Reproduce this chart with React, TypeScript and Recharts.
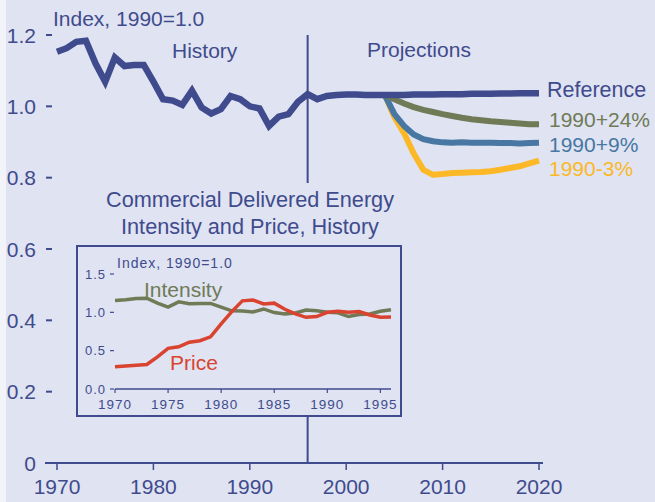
import React from 'react';
import { LineChart, Line, XAxis, YAxis, ReferenceLine } from 'recharts';

const NAVY = '#3f4b8d';
const GREEN = '#707a56';
const BLUE = '#4777a2';
const GOLD = '#fcb826';
const RED = '#d9432f';
const BG = '#dfe3f2';
const FONT = '"Liberation Sans", Arial, sans-serif';

// history, 1970-1996 (index, 1990 = 1.0)
const historyYears = [
  1970, 1971, 1972, 1973, 1974, 1975, 1976, 1977, 1978, 1979, 1980, 1981, 1982, 1983,
  1984, 1985, 1986, 1987, 1988, 1989, 1990, 1991, 1992, 1993, 1994, 1995, 1996,
];
const historyIndex = [
  1.153, 1.163, 1.181, 1.184, 1.12, 1.069, 1.137, 1.113, 1.116, 1.116, 1.069, 1.02, 1.016, 1.004,
  1.044, 0.997, 0.98, 0.992, 1.029, 1.02, 1.0, 0.994, 0.945, 0.971, 0.978, 1.013, 1.034,
];

// reference projection, 1997-2020
const projYears = [
  1997, 1998, 1999, 2000, 2001, 2002, 2003, 2004, 2005, 2006, 2007, 2008,
  2009, 2010, 2011, 2012, 2013, 2014, 2015, 2016, 2017, 2018, 2019, 2020,
];
const referenceIndex = [
  1.02, 1.029, 1.032, 1.033, 1.033, 1.032, 1.032, 1.032, 1.032, 1.032, 1.033, 1.033,
  1.033, 1.034, 1.034, 1.034, 1.035, 1.035, 1.035, 1.036, 1.036, 1.037, 1.037, 1.037,
];

// alternative cases, 2004-2020
const caseYears = [
  2004, 2005, 2006, 2007, 2008, 2009, 2010, 2011, 2012, 2013, 2014, 2015, 2016, 2017, 2018, 2019, 2020,
];
const case24 = [
  1.032, 1.02, 1.008, 0.998, 0.99, 0.984, 0.978, 0.973, 0.968, 0.964, 0.961, 0.958, 0.956, 0.954, 0.952, 0.95, 0.95,
];
const case9 = [
  1.032, 0.978, 0.945, 0.921, 0.908, 0.902, 0.899, 0.898, 0.899, 0.898, 0.898, 0.898, 0.897, 0.897, 0.896, 0.897, 0.898,
];
const caseMinus3 = [
  1.032, 0.97, 0.925, 0.868, 0.822, 0.808, 0.81, 0.813, 0.814, 0.815, 0.816, 0.818, 0.822, 0.827, 0.832, 0.84, 0.848,
];

// inset: commercial delivered energy price, 1970-1996
const priceIndex = [
  0.29, 0.3, 0.31, 0.32, 0.42, 0.53, 0.55, 0.61, 0.63, 0.68, 0.85, 1.01, 1.15, 1.16,
  1.11, 1.12, 1.04, 0.98, 0.935, 0.945, 1.0, 1.015, 1.0, 1.01, 0.965, 0.935, 0.94,
];

const xTicks = [1970, 1980, 1990, 2000, 2010, 2020];
const yTicks = [0, 0.2, 0.4, 0.6, 0.8, 1.0, 1.2];
const insetXTicks = [1970, 1975, 1980, 1985, 1990, 1995];
const insetYTicks = [0, 0.5, 1.0, 1.5];

const mainData = [...historyYears, ...projYears].map(year => {
  const h = historyYears.indexOf(year);
  const p = projYears.indexOf(year);
  const c = caseYears.indexOf(year);
  return {
    year,
    reference: h >= 0 ? historyIndex[h] : referenceIndex[p],
    case24: c >= 0 ? case24[c] : null,
    case9: c >= 0 ? case9[c] : null,
    caseMinus3: c >= 0 ? caseMinus3[c] : null,
  };
});

const insetData = historyYears.map((year, i) => ({
  year,
  intensity: historyIndex[i],
  price: priceIndex[i],
}));

const MainYTick = (props: any) => {
  const { y, payload } = props;
  const v = payload.value;
  return (
    <g>
      <text x={36} y={y + 7.5} textAnchor="end" fontSize={21} fill={NAVY} fontFamily={FONT}>
        {v === 0 ? '0' : v.toFixed(1)}
      </text>
      {v !== 0 && <line x1={46} x2={52} y1={y} y2={y} stroke={NAVY} strokeWidth={2} />}
    </g>
  );
};

const InsetYTick = (props: any) => {
  const { y, payload } = props;
  return (
    <g>
      <text x={28} y={y + 4.5} textAnchor="end" fontSize={13} fill={NAVY} fontFamily={FONT} letterSpacing={1}>
        {payload.value.toFixed(1)}
      </text>
      <line x1={32} x2={36} y1={y} y2={y} stroke={NAVY} strokeWidth={1.2} />
    </g>
  );
};

const App: React.FC = () => {
  return (
    <div style={{ position: 'fixed', left: 0, top: 0, width: 655, height: 502, background: '#f3f4fa', fontFamily: FONT }}>
      <div style={{ position: 'absolute', left: 6, top: 0, width: 649, height: 502, background: BG }} />
      <div style={{ position: 'absolute', left: 0, top: 0 }}>
        <LineChart width={655} height={502} data={mainData} margin={{ top: 35, right: 112, bottom: 9, left: 0 }}>
          <XAxis
            dataKey="year"
            type="number"
            domain={[1970, 2020]}
            ticks={xTicks}
            padding={{ left: 12, right: 4 }}
            height={30}
            stroke={NAVY}
            axisLine={{ stroke: NAVY, strokeWidth: 2 }}
            tickLine={{ stroke: NAVY, strokeWidth: 1.5 }}
            tickSize={7}
            tickMargin={9}
            tick={{ fontSize: 21, fill: NAVY, fontFamily: FONT }}
          />
          <YAxis
            type="number"
            domain={[0, 1.2]}
            ticks={yTicks}
            width={45}
            axisLine={false}
            tickLine={false}
            tick={MainYTick}
          />
          <ReferenceLine x={1996} stroke={NAVY} strokeWidth={2} />
          <Line dataKey="caseMinus3" stroke={GOLD} strokeWidth={6} dot={false} isAnimationActive={false} />
          <Line dataKey="case9" stroke={BLUE} strokeWidth={6} dot={false} isAnimationActive={false} />
          <Line dataKey="case24" stroke={GREEN} strokeWidth={6} dot={false} isAnimationActive={false} />
          <Line dataKey="reference" stroke={NAVY} strokeWidth={6.5} dot={false} isAnimationActive={false} />
        </LineChart>
      </div>
      <div style={{ position: 'absolute', left: 100, top: 183, width: 300, height: 62, background: BG }} />
      <div
        style={{
          position: 'absolute', left: 76, top: 245, width: 326, height: 172,
          border: `2px solid ${NAVY}`, boxSizing: 'border-box', background: BG,
        }}
      >
        <LineChart width={322} height={168} data={insetData} margin={{ top: 27, right: 9, bottom: 6, left: 0 }}>
          <XAxis
            dataKey="year"
            type="number"
            domain={[1970, 1996]}
            ticks={insetXTicks}
            height={20}
            axisLine={{ stroke: NAVY, strokeWidth: 1.5 }}
            tickLine={{ stroke: NAVY, strokeWidth: 1.2 }}
            tickSize={4}
            tickMargin={6}
            tick={{ fontSize: 13.5, fill: NAVY, fontFamily: FONT, letterSpacing: 1 }}
          />
          <YAxis
            type="number"
            domain={[0, 1.5]}
            ticks={insetYTicks}
            width={37}
            axisLine={false}
            tickLine={false}
            tick={InsetYTick}
          />
          <Line dataKey="intensity" stroke={GREEN} strokeWidth={3.5} dot={false} isAnimationActive={false} />
          <Line dataKey="price" stroke={RED} strokeWidth={3.5} dot={false} isAnimationActive={false} />
        </LineChart>
      </div>
      <svg width={655} height={502} style={{ position: 'absolute', left: 0, top: 0, pointerEvents: 'none' }} fontFamily={FONT}>
        <text x={53} y={26} fontSize={21} fill={NAVY}>Index, 1990=1.0</text>
        <text x={172} y={58} fontSize={21} fill={NAVY}>History</text>
        <text x={367} y={57} fontSize={21} fill={NAVY}>Projections</text>
        <text x={547} y={97} fontSize={21.5} fill={NAVY}>Reference</text>
        <text x={549} y={126.5} fontSize={21} fill={GREEN}>1990+24%</text>
        <text x={549} y={151.5} fontSize={21} fill={BLUE}>1990+9%</text>
        <text x={549} y={176} fontSize={21} fill={GOLD}>1990-3%</text>
        <text x={250} y={207} fontSize={21.7} fill={NAVY} textAnchor="middle">Commercial Delivered Energy</text>
        <text x={250} y={234} fontSize={21.7} fill={NAVY} textAnchor="middle">Intensity and Price, History</text>
        <text x={117} y={268} fontSize={14} fill={NAVY} letterSpacing={1}>Index, 1990=1.0</text>
        <text x={144} y={297} fontSize={21} fill={GREEN}>Intensity</text>
        <text x={170} y={370} fontSize={21} fill={RED}>Price</text>
      </svg>
    </div>
  );
};

export default App;
